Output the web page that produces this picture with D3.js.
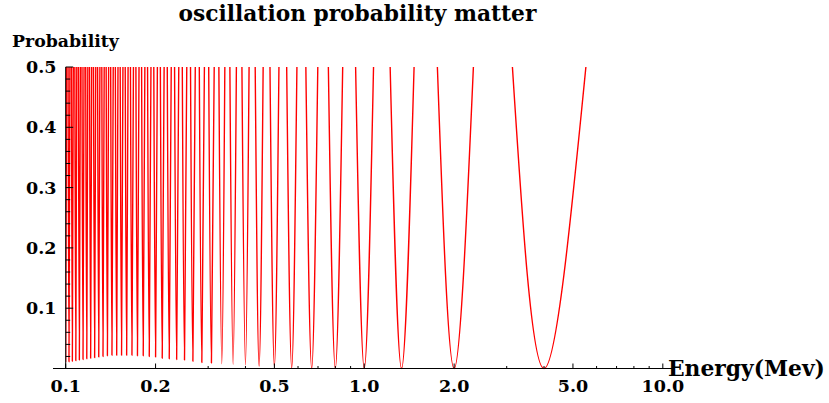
<!DOCTYPE html>
<html><head><meta charset="utf-8">
<script src="https://cdn.jsdelivr.net/npm/d3@7"></script>
<style>html,body{margin:0;padding:0;background:#fff;} svg{display:block;}</style>
</head><body>
<svg id="chart" width="829" height="403"></svg>
<script>
// ---- data (one entry per oscillation dip, n = 1..40) ----
const lobeMinE = [4, 2, 1.3333, 1, 0.8, 0.66667, 0.57143, 0.5, 0.44444, 0.4,
  0.36364, 0.33333, 0.30769, 0.28571, 0.26667, 0.25, 0.23529, 0.22222, 0.21053, 0.2,
  0.19048, 0.18182, 0.17391, 0.16667, 0.16, 0.15385, 0.14815, 0.14286, 0.13793, 0.13333,
  0.12903, 0.125, 0.12121, 0.11765, 0.11429, 0.11111, 0.10811, 0.10526, 0.10256, 0.1];
const lobeLeftE = [3.1348, 1.7575, 1.2210, 0.93545, 0.75815, 0.63735, 0.54975, 0.48333, 0.43122, 0.38926,
  0.35474, 0.32584, 0.30130, 0.28019, 0.26185, 0.24576, 0.23154, 0.21887, 0.20751, 0.19728,
  0.18801, 0.17956, 0.17185, 0.16477, 0.15825, 0.15223, 0.14665, 0.14146, 0.13663, 0.13212,
  0.12789, 0.12393, 0.12021, 0.11670, 0.11339, 0.11027, 0.10731, 0.10450, 0.10184, 0.09931];
const lobeRightE = [5.5249, 2.3202, 1.4684, 1.07411, 0.84674, 0.69881, 0.59488, 0.51787, 0.45851, 0.41135,
  0.37299, 0.34118, 0.31437, 0.29146, 0.27166, 0.25439, 0.23918, 0.22568, 0.21363, 0.20280,
  0.19301, 0.18413, 0.17603, 0.16861, 0.16179, 0.15550, 0.14968, 0.14428, 0.13926, 0.13457,
  0.13019, 0.12609, 0.12223, 0.11861, 0.11519, 0.11197, 0.10892, 0.10603, 0.10330, 0.10069];
const lobeMinP = [0, 0, 0, 0, 0, 0, 0.001, 0.003, 0.004, 0.006,
  0.007, 0.008, 0.009, 0.010, 0.012, 0.014, 0.015, 0.016, 0.017, 0.019,
  0.020, 0.021, 0.021, 0.022, 0.022, 0.022, 0.022, 0.022, 0.021, 0.020,
  0.019, 0.018, 0.017, 0.016, 0.015, 0.014, 0.013, 0.012, 0.011, 0.011];
const clipLevel = 0.5;   // plot range top (curve goes above it between dips)

const xMajorTicks = [0.1, 0.2, 0.5, 1, 2, 5, 10];
const xMajorLabels = ["0.1", "0.2", "0.5", "1.0", "2.0", "5.0", "10.0"];
const xMinorTicks = [0.3, 0.4, 0.6, 0.7, 0.8, 0.9, 3, 4, 6, 7, 8, 9];
const yMajorTicks = [0.1, 0.2, 0.3, 0.4, 0.5];
const yMajorLabels = ["0.1", "0.2", "0.3", "0.4", "0.5"];
const yMinorTicks = [0.02, 0.04, 0.06, 0.08, 0.12, 0.14, 0.16, 0.18, 0.22, 0.24, 0.26, 0.28,
  0.32, 0.34, 0.36, 0.38, 0.42, 0.44, 0.46, 0.48];
const xDomain = [0.1, 10.9];
const yDomain = [0, 0.5];

const titleText = "oscillation probability matter";
const yTitle = "Probability";
const xTitle = "Energy(Mev)";

// ---- drawing ----
const svg = d3.select("#chart");
const font = "'DejaVu Serif', 'Liberation Serif', serif";
const x = d3.scaleLog().domain(xDomain).range([65.7, 674]);
const y = d3.scaleLinear().domain(yDomain).range([368.5, 67]);

svg.append("defs").append("clipPath").attr("id", "plotclip")
  .append("rect")
  .attr("x", x(xDomain[0])).attr("y", y(clipLevel))
  .attr("width", x(xDomain[1]) - x(xDomain[0]))
  .attr("height", y(0) - y(clipLevel) + 4);

const lobes = lobeMinE.map((m, i) => [
  [lobeLeftE[i], clipLevel], [m, lobeMinP[i]], [lobeRightE[i], clipLevel]
]);
const line = d3.line().x(d => x(d[0])).y(d => y(d[1])).curve(d3.curveNatural);
svg.append("g").attr("clip-path", "url(#plotclip)")
  .selectAll("path").data(lobes).join("path")
  .attr("d", line)
  .attr("fill", "none").attr("stroke", "#ff0000")
  .attr("stroke-width", 1.4).attr("stroke-linejoin", "round");

// axes
const axes = svg.append("g").attr("stroke", "#000");
axes.append("line").attr("x1", 53).attr("x2", x(xDomain[1]))
  .attr("y1", y(0)).attr("y2", y(0)).attr("stroke-width", 1);
axes.append("line").attr("x1", x(xDomain[0])).attr("x2", x(xDomain[0]))
  .attr("y1", y(0)).attr("y2", y(yDomain[1])).attr("stroke-width", 1);
axes.selectAll(".xM").data(xMajorTicks).join("line")
  .attr("x1", d => x(d)).attr("x2", d => x(d)).attr("y1", y(0)).attr("y2", y(0) - 5);
axes.selectAll(".xm").data(xMinorTicks).join("line")
  .attr("x1", d => x(d)).attr("x2", d => x(d)).attr("y1", y(0)).attr("y2", y(0) - 2.5);
axes.selectAll(".yM").data(yMajorTicks).join("line")
  .attr("y1", d => y(d)).attr("y2", d => y(d)).attr("x1", x(xDomain[0])).attr("x2", x(xDomain[0]) + 7.5);
axes.selectAll(".ym").data(yMinorTicks).join("line")
  .attr("y1", d => y(d)).attr("y2", d => y(d)).attr("x1", x(xDomain[0])).attr("x2", x(xDomain[0]) + 4.5);

// tick labels
svg.append("g").selectAll("text").data(xMajorTicks).join("text")
  .attr("x", d => x(d)).attr("y", 392).attr("text-anchor", "middle")
  .attr("font-family", font).attr("font-weight", "bold").attr("font-size", 17.5)
  .text((d, i) => xMajorLabels[i]);
svg.append("g").selectAll("text").data(yMajorTicks).join("text")
  .attr("x", 56.5).attr("y", d => y(d) + 6).attr("text-anchor", "end")
  .attr("font-family", font).attr("font-weight", "bold").attr("font-size", 17.5)
  .text((d, i) => yMajorLabels[i]);

function fit(sel, w) {
  const cur = sel.node().getComputedTextLength();
  const fs = +sel.attr("font-size");
  sel.attr("font-size", fs * w / cur);
}
const t = svg.append("text").attr("x", 357.5).attr("y", 21).attr("text-anchor", "middle")
  .attr("font-family", font).attr("font-weight", "bold").attr("font-size", 21).text(titleText);
fit(t, 358);
const yl = svg.append("text").attr("x", 12).attr("y", 47)
  .attr("font-family", font).attr("font-weight", "bold").attr("font-size", 17).text(yTitle);
fit(yl, 107);
const xl = svg.append("text").attr("x", 668).attr("y", 376)
  .attr("font-family", font).attr("font-weight", "bold").attr("font-size", 19).text(xTitle);
fit(xl, 157);
</script>
</body></html>
